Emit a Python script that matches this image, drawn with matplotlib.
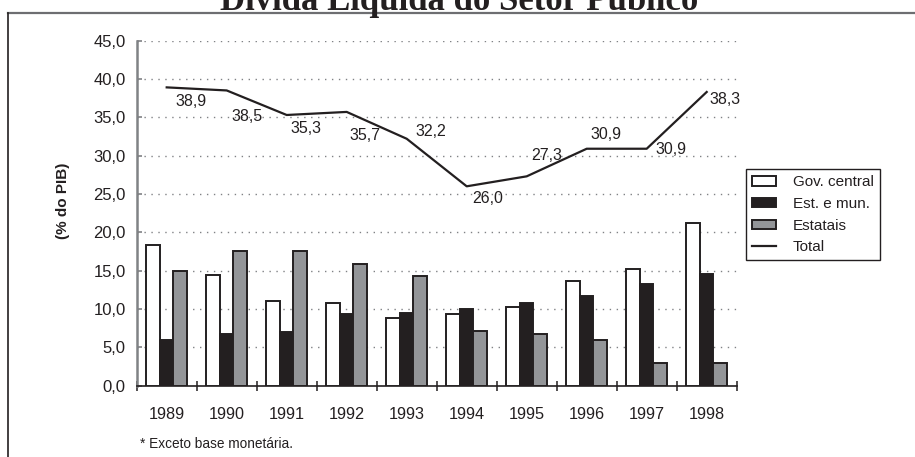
import numpy as np
import matplotlib
matplotlib.use("Agg")
import matplotlib.pyplot as plt
from matplotlib.lines import Line2D

plt.rcParams["font.family"] = ["Liberation Sans", "DejaVu Sans"]

years = ["1989", "1990", "1991", "1992", "1993", "1994", "1995", "1996", "1997", "1998"]
gov_central = [18.3, 14.5, 11.0, 10.8, 8.8, 9.3, 10.2, 13.7, 15.2, 21.2]
est_mun = [6.0, 6.8, 7.0, 9.4, 9.5, 10.0, 10.8, 11.7, 13.2, 14.6]
estatais = [14.9, 17.6, 17.6, 15.9, 14.3, 7.1, 6.7, 5.9, 2.9, 3.0]
total = [38.9, 38.5, 35.3, 35.7, 32.2, 26.0, 27.3, 30.9, 30.9, 38.3]
# label offsets in pixels from each point of the total line
label_off = [(24, -14), (20, -26), (19, -14), (18, -24), (24, 7),
             (21, -12), (20, 21), (19, 14), (24, -1), (18, -8)]

dark = "#231f20"
grey = "#939598"
axgrey = "#808285"

W, H = 915, 457
fig = plt.figure(figsize=(W / 100, H / 100), dpi=100)

# outer frame (only top and left visible)
fig.add_artist(Line2D([8.3 / W, 1.0], [1 - 12.7 / H, 1 - 12.7 / H], color="#6d6e71", lw=1.6))
fig.add_artist(Line2D([8.3 / W, 8.3 / W], [0.0, 1 - 12.7 / H], color=dark, lw=1.2))
fig.text(0.502, 1 - 10.5 / H, "Dívida Líquida do Setor Público", ha="center", va="baseline",
         fontsize=25, fontweight="bold", family=["Liberation Serif", "DejaVu Serif"], color=dark)

ax = fig.add_axes([136.7 / W, 71.3 / H, 600 / W, 345.1 / H])
x = np.arange(len(years))
bw = 0.225
b1 = ax.bar(x - bw, gov_central, bw, color="white", edgecolor=dark, lw=1.4, label="Gov. central", zorder=3)
b2 = ax.bar(x, est_mun, bw, color=dark, edgecolor=dark, lw=1.4, label="Est. e mun.", zorder=3)
b3 = ax.bar(x + bw, estatais, bw, color=grey, edgecolor=dark, lw=1.4, label="Estatais", zorder=3)
ln, = ax.plot(x, total, color=dark, lw=1.6, label="Total", zorder=4)

for xi, v, (dx, dy) in zip(x, total, label_off):
    ax.annotate(f"{v:.1f}".replace(".", ","), (xi, v), xytext=(dx, dy), textcoords="offset pixels",
                ha="center", va="center", fontsize=11.5, color=dark, zorder=5)

ax.set_xlim(-0.5, len(years) - 0.5)
ax.set_ylim(0, 45)
yt = np.arange(0, 46, 5)
ax.set_yticks(yt)
ax.set_yticklabels([f"{v:.1f}".replace(".", ",") for v in yt])
ax.set_xticks(np.arange(-0.5, len(years), 1.0))
ax.set_xticklabels([])
ax.set_xticks(x, minor=True)
ax.set_xticklabels(years, minor=True)
ax.tick_params(axis="x", which="major", direction="inout", length=7.5, width=1.1, color=dark)
ax.tick_params(axis="x", which="minor", length=0, pad=15, labelsize=11.7, labelcolor=dark)
ax.tick_params(axis="y", direction="in", length=3.6, width=1.2, color=axgrey, pad=8,
               labelsize=12, labelcolor=dark)

ax.yaxis.grid(True, linestyle=(0, (1, 4)), color=axgrey, lw=1.0, zorder=0)
ax.set_axisbelow(True)
for s in ["top", "right"]:
    ax.spines[s].set_visible(False)
ax.spines["left"].set_color(axgrey)
ax.spines["left"].set_linewidth(1.8)
ax.spines["bottom"].set_color(dark)
ax.spines["bottom"].set_linewidth(1.2)

ax.set_ylabel("(% do PIB)", fontsize=11, fontweight="bold", color=dark)
ax.yaxis.set_label_coords(-0.111, 0.535)

leg = ax.legend([b1, b2, b3, ln], ["Gov. central", "Est. e mun.", "Estatais", "Total"],
                loc="upper left", bbox_to_anchor=(746 / W, 1 - 169.3 / H), bbox_transform=fig.transFigure,
                borderaxespad=0, borderpad=0.4, handlelength=1.55, handleheight=0.55,
                handletextpad=1.1, labelspacing=0.5, fontsize=11, fancybox=False, framealpha=1,
                edgecolor=dark, labelcolor=dark)
leg.get_frame().set_linewidth(1.0)

fig.text(140 / W, 1 - 444 / H, "* Exceto base monetária.", ha="left", va="center", fontsize=9.8, color=dark)

fig.savefig("out.png", dpi=100)
